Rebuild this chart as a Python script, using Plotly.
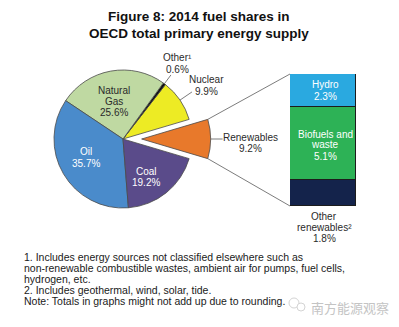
import math
import plotly.graph_objects as go

W, H = 399, 327
FONT = "Liberation Sans, Arial, sans-serif"

# ---- data -------------------------------------------------------------
fuels = ["Renewables", "Nuclear", "Other¹", "Natural<br>Gas", "Oil", "Coal"]
shares = [9.2, 9.9, 0.6, 25.6, 35.7, 19.2]
fuel_colors = ["#E8792B", "#EDEB24", "#111111", "#BFD9A2", "#4A8BCB", "#5A4B8A"]
fuel_text_colors = ["#2a2a2a", "#2a2a2a", "#2a2a2a", "#2a2a2a", "#ffffff", "#ffffff"]

renew_parts = ["Other<br>renewables²", "Biofuels and<br>waste", "Hydro"]
renew_shares = [1.8, 5.1, 2.3]
renew_colors = ["#14234B", "#2DB256", "#2AA9E0"]

title_lines = ["Figure 8: 2014 fuel shares in", "OECD total primary energy supply"]
footnotes = [
    "1. Includes energy sources not classified elsewhere such as",
    "non-renewable combustible wastes, ambient air for pumps, fuel cells,",
    "hydrogen, etc.",
    "2. Includes geothermal, wind, solar, tide.",
    "Note: Totals in graphs might not add up due to rounding.",
]
watermark = "南方能源观察"

# ---- layout geometry (pixels) ----------------------------------------
cx, cy, R = 123.0, 139.0, 69.0
PULL = 0.27
half = R * (1 + PULL)
pie_dom_x = [(cx - half) / W, (cx + half) / W]
pie_dom_y = [1 - (cy + half) / H, 1 - (cy - half) / H]

bar_dom_x = [290 / W, 356 / W]
bar_dom_y = [1 - 206 / H, 1 - 74 / H]
bar_range_x = [-0.5, 0.5]
bar_range_y = [0, sum(renew_shares)]

total = sum(shares)
deg_per = 360.0 / total
rotation = 90 - 0.5 * shares[0] * deg_per   # centre the pulled slice at 3 o'clock
a0 = rotation + shares[0] * deg_per


def slice_span(i):
    before = sum(shares[:i])
    return a0 - (before + shares[i]) * deg_per, a0 - before * deg_per


def polar(a_deg, rr, ox=0.0, oy=0.0):
    a = math.radians(a_deg)
    return cx + ox + rr * math.sin(a), cy + oy - rr * math.cos(a)


def paper(px, py):
    return px / W, 1 - py / H


fig = go.Figure()

fig.add_trace(go.Pie(
    labels=[f.replace("<br>", " ") for f in fuels],
    values=shares,
    sort=False,
    direction="counterclockwise",
    rotation=rotation,
    pull=[PULL, 0, 0, 0, 0, 0],
    marker=dict(colors=fuel_colors, line=dict(color="#4a4a4a", width=0.8)),
    textinfo="none",
    hoverinfo="label+percent",
    showlegend=False,
    domain=dict(x=pie_dom_x, y=pie_dom_y),
))

for name, val, col in zip(renew_parts, renew_shares, renew_colors):
    fig.add_trace(go.Bar(
        x=[0], y=[val], width=1,
        marker=dict(color=col, line=dict(color="#1c1c1c", width=1)),
        name=name.replace("<br>", " "),
        showlegend=False,
        xaxis="x", yaxis="y",
    ))

shapes = []
annotations = []


def line_px(x0, y0, x1, y1, color="#5a5a5a", width=0.8):
    p0 = paper(x0, y0)
    p1 = paper(x1, y1)
    shapes.append(dict(type="line", xref="paper", yref="paper",
                       x0=p0[0], y0=p0[1], x1=p1[0], y1=p1[1],
                       line=dict(color=color, width=width)))


def circle_px(x, y, r, color="#d4d4d4"):
    a = paper(x - r, y + r)
    b = paper(x + r, y - r)
    shapes.append(dict(type="circle", xref="paper", yref="paper",
                       x0=a[0], y0=a[1], x1=b[0], y1=b[1],
                       fillcolor="white", line=dict(color=color, width=1)))


def text_lines(lines, px, py, spacing=11.2, color="#2a2a2a", size=10,
               bold=False, anchor="center", family=FONT):
    for k, t in enumerate(lines):
        x, y = paper(px, py + k * spacing)
        annotations.append(dict(
            x=x, y=y, xref="paper", yref="paper", showarrow=False,
            text=f"<b>{t}</b>" if bold else t,
            xanchor=anchor, yanchor="middle", borderpad=0,
            font=dict(family=family, size=size, color=color),
        ))


# connectors from the pulled slice to the breakdown bar
lo, hi = slice_span(0)
pull_dir = math.radians((lo + hi) / 2)
off_x, off_y = PULL * R * math.sin(pull_dir), -PULL * R * math.cos(pull_dir)
up_corner = polar(lo, R, off_x, off_y)
dn_corner = polar(hi, R, off_x, off_y)
bx = (bar_dom_x[0] + (-0.5 - bar_range_x[0]) / (bar_range_x[1] - bar_range_x[0])
      * (bar_dom_x[1] - bar_dom_x[0])) * W
by_top = (1 - bar_dom_y[1]) * H
by_bot = (1 - bar_dom_y[0]) * H
line_px(up_corner[0], up_corner[1], bx, by_top)
line_px(dn_corner[0], dn_corner[1], bx, by_bot)

# radial leader lines for the outside labels
leaders = {0: 12.0, 1: 14.5, 2: 11.0}
for i, length in leaders.items():
    lo, hi = slice_span(i)
    mid = (lo + hi) / 2
    ox, oy = (off_x, off_y) if i == 0 else (0.0, 0.0)
    p0 = polar(mid, R, ox, oy)
    p1 = polar(mid, R + length, ox, oy)
    line_px(p0[0], p0[1], p1[0], p1[1])

# slice labels
label_pos = [(250, 137), (206, 80), (177, 58), (114, 90), (86, 152), (146, 171)]
for i, (name, val) in enumerate(zip(fuels, shares)):
    px, py = label_pos[i]
    text_lines(name.split("<br>") + [f"{val:.1f}%"], px, py,
               color=fuel_text_colors[i])

# breakdown bar labels
bar_label_pos = [(324, 216), (325, 134), (325, 85)]
bar_label_col = ["#2a2a2a", "#ffffff", "#ffffff"]
for (px, py), name, val, col in zip(bar_label_pos, renew_parts, renew_shares, bar_label_col):
    text_lines(name.split("<br>") + [f"{val:.1f}%"], px, py, spacing=11, color=col)

# title
text_lines(title_lines, 199, 17, spacing=16, color="#111111", size=13.5, bold=True)

# faint chat-bubble mark beside the watermark
circle_px(294, 303, 5)
circle_px(301, 307, 4)

# footnotes
text_lines(footnotes, 23, 257, spacing=11, color="#1a1a1a", size=10.5, anchor="left")

# watermark
text_lines([watermark], 350, 307, color="#c4c4c4", size=13,
           family="Noto Sans CJK SC, sans-serif")

fig.update_layout(
    width=W, height=H,
    margin=dict(l=0, r=0, t=0, b=0),
    paper_bgcolor="white", plot_bgcolor="white",
    barmode="stack", bargap=0,
    xaxis=dict(domain=bar_dom_x, range=bar_range_x, visible=False, fixedrange=True),
    yaxis=dict(domain=bar_dom_y, range=bar_range_y, visible=False, fixedrange=True),
    shapes=shapes,
    annotations=annotations,
    font=dict(family=FONT),
)

fig.write_html("out.html")
